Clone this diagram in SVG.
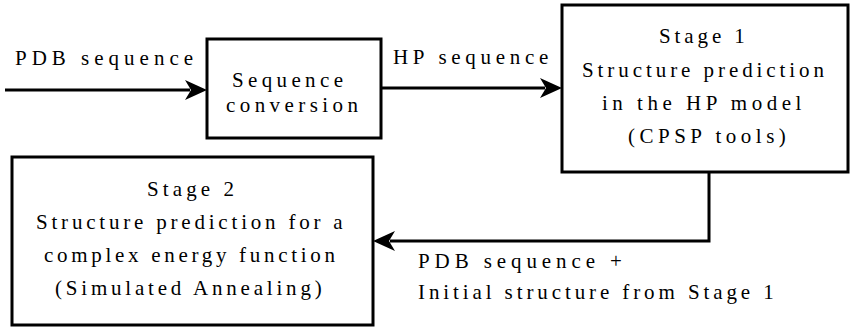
<svg xmlns="http://www.w3.org/2000/svg" width="851" height="327" viewBox="0 0 851 327">
<g id="connectors">
<path d="M5,90 H190 M381,88 H545 M709,172 V241 H390" fill="none" stroke="#000" stroke-width="3"/>
<path d="M207,90 L185,80 L191,90 L185,100 Z M562,88 L540,78 L546,88 L540,98 Z M373,241 L395,231 L389,241 L395,251 Z" fill="#000"/>
</g>
<text font-family="Liberation Serif" font-size="21" letter-spacing="5" x="15" y="65">PDB sequence</text>
<text font-family="Liberation Serif" font-size="21" letter-spacing="4.7" x="393" y="64">HP sequence</text>
<text font-family="Liberation Serif" font-size="21" letter-spacing="4.9" x="418" y="268">PDB sequence +</text>
<text font-family="Liberation Serif" font-size="21" letter-spacing="3.9" x="418" y="299">Initial structure from Stage 1</text>
<g id="conversion">
<rect x="207" y="39" width="174" height="99" fill="#fff" stroke="#000" stroke-width="3"/>
<text font-family="Liberation Serif" font-size="21" letter-spacing="4.36" x="232" y="87">Sequence</text>
<text font-family="Liberation Serif" font-size="21" letter-spacing="4.43" x="226" y="112">conversion</text>
</g>
<g id="stage1">
<rect x="562" y="5" width="286" height="167" fill="#fff" stroke="#000" stroke-width="3"/>
<text font-family="Liberation Serif" font-size="21" letter-spacing="3.9" x="659" y="43">Stage 1</text>
<text font-family="Liberation Serif" font-size="21" letter-spacing="3.93" x="582" y="77">Structure prediction</text>
<text font-family="Liberation Serif" font-size="21" letter-spacing="4.5" x="602" y="110">in the HP model</text>
<text font-family="Liberation Serif" font-size="21" letter-spacing="4.5" x="628" y="143">(CPSP tools)</text>
</g>
<g id="stage2">
<rect x="12" y="157" width="361" height="168" fill="#fff" stroke="#000" stroke-width="3"/>
<text font-family="Liberation Serif" font-size="21" letter-spacing="4.1" x="147" y="196">Stage 2</text>
<text font-family="Liberation Serif" font-size="21" letter-spacing="3.8" x="36" y="229">Structure prediction for a</text>
<text font-family="Liberation Serif" font-size="21" letter-spacing="3.7" x="44" y="262">complex energy function</text>
<text font-family="Liberation Serif" font-size="21" letter-spacing="3.8" x="55" y="295">(Simulated Annealing)</text>
</g>
</svg>
